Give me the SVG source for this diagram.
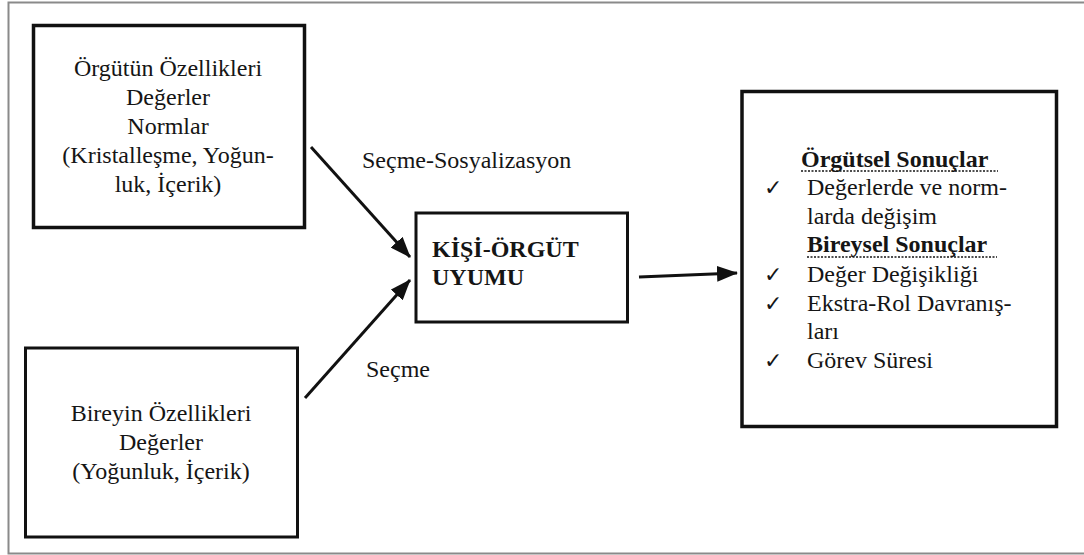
<svg xmlns="http://www.w3.org/2000/svg" width="1084" height="555" viewBox="0 0 1084 555">
  <style>
    .box { fill: #ffffff; stroke: #111111; }
    text { font-family: 'Liberation Serif', 'DejaVu Serif', serif; font-size: 24px; fill: #151515; }
    .mid { text-anchor: middle; }
    .bold { font-weight: bold; }
    .check { font-family: 'DejaVu Sans', sans-serif; font-size: 22px; }
    .edge { stroke: #111111; stroke-width: 3; fill: none; marker-end: url(#head); }
    .uline { stroke: #151515; stroke-width: 1.6; stroke-dasharray: 2 1.5; }
  </style>
  <defs>
    <marker id="head" markerUnits="userSpaceOnUse" markerWidth="22" markerHeight="16" refX="20" refY="8" orient="auto">
      <path d="M0,0 L21,8 L0,16 Z" fill="#111111"/>
    </marker>
  </defs>

  <rect width="1084" height="555" fill="#ffffff"/>

  <!-- page frame (open on the right) -->
  <path d="M1084,2.5 H8.5 V553.5 H1084" fill="none" stroke="#8a8a8a" stroke-width="2"/>

  <!-- organisation characteristics -->
  <g id="node-orgut">
    <rect class="box" x="33.5" y="25.5" width="271" height="202" stroke-width="3.5"/>
    <text class="mid" x="168" y="76">Örgütün Özellikleri</text>
    <text class="mid" x="168" y="105">Değerler</text>
    <text class="mid" x="168" y="134">Normlar</text>
    <text class="mid" x="168" y="163">(Kristalleşme, Yoğun-</text>
    <text class="mid" x="168" y="192">luk, İçerik)</text>
  </g>

  <!-- individual characteristics -->
  <g id="node-birey">
    <rect class="box" x="25.5" y="348" width="272" height="189" stroke-width="3"/>
    <text class="mid" x="161" y="421">Bireyin Özellikleri</text>
    <text class="mid" x="161" y="450">Değerler</text>
    <text class="mid" x="161" y="479">(Yoğunluk, İçerik)</text>
  </g>

  <!-- person-organisation fit -->
  <g id="node-uyum">
    <rect class="box" x="416" y="213" width="211.5" height="109" stroke-width="3"/>
    <text class="bold" x="432" y="257">KİŞİ-ÖRGÜT</text>
    <text class="bold" x="432" y="285">UYUMU</text>
  </g>

  <!-- outcomes -->
  <g id="node-sonuclar">
    <rect class="box" x="742" y="91.5" width="314.5" height="335" stroke-width="3.5"/>
    <text class="bold" x="801" y="167">Örgütsel Sonuçlar</text>
    <line class="uline" x1="801" y1="171" x2="998" y2="171"/>
    <text class="check" x="764" y="195">✓</text>
    <text x="807" y="195">Değerlerde ve norm-</text>
    <text x="807" y="224">larda değişim</text>
    <text class="bold" x="807" y="252">Bireysel Sonuçlar</text>
    <line class="uline" x1="807" y1="257" x2="997" y2="257"/>
    <text class="check" x="764" y="282">✓</text>
    <text x="807" y="282">Değer Değişikliği</text>
    <text class="check" x="764" y="311">✓</text>
    <text x="807" y="311">Ekstra-Rol Davranış-</text>
    <text x="807" y="339">ları</text>
    <text class="check" x="764" y="368">✓</text>
    <text x="807" y="368">Görev Süresi</text>
  </g>

  <!-- connectors -->
  <g id="connectors">
    <line class="edge" x1="311" y1="147" x2="410" y2="257"/>
    <line class="edge" x1="305" y1="398" x2="410" y2="280"/>
    <line class="edge" x1="639" y1="277" x2="737" y2="273"/>
    <text x="362" y="168">Seçme-Sosyalizasyon</text>
    <text x="366" y="377">Seçme</text>
  </g>
</svg>
